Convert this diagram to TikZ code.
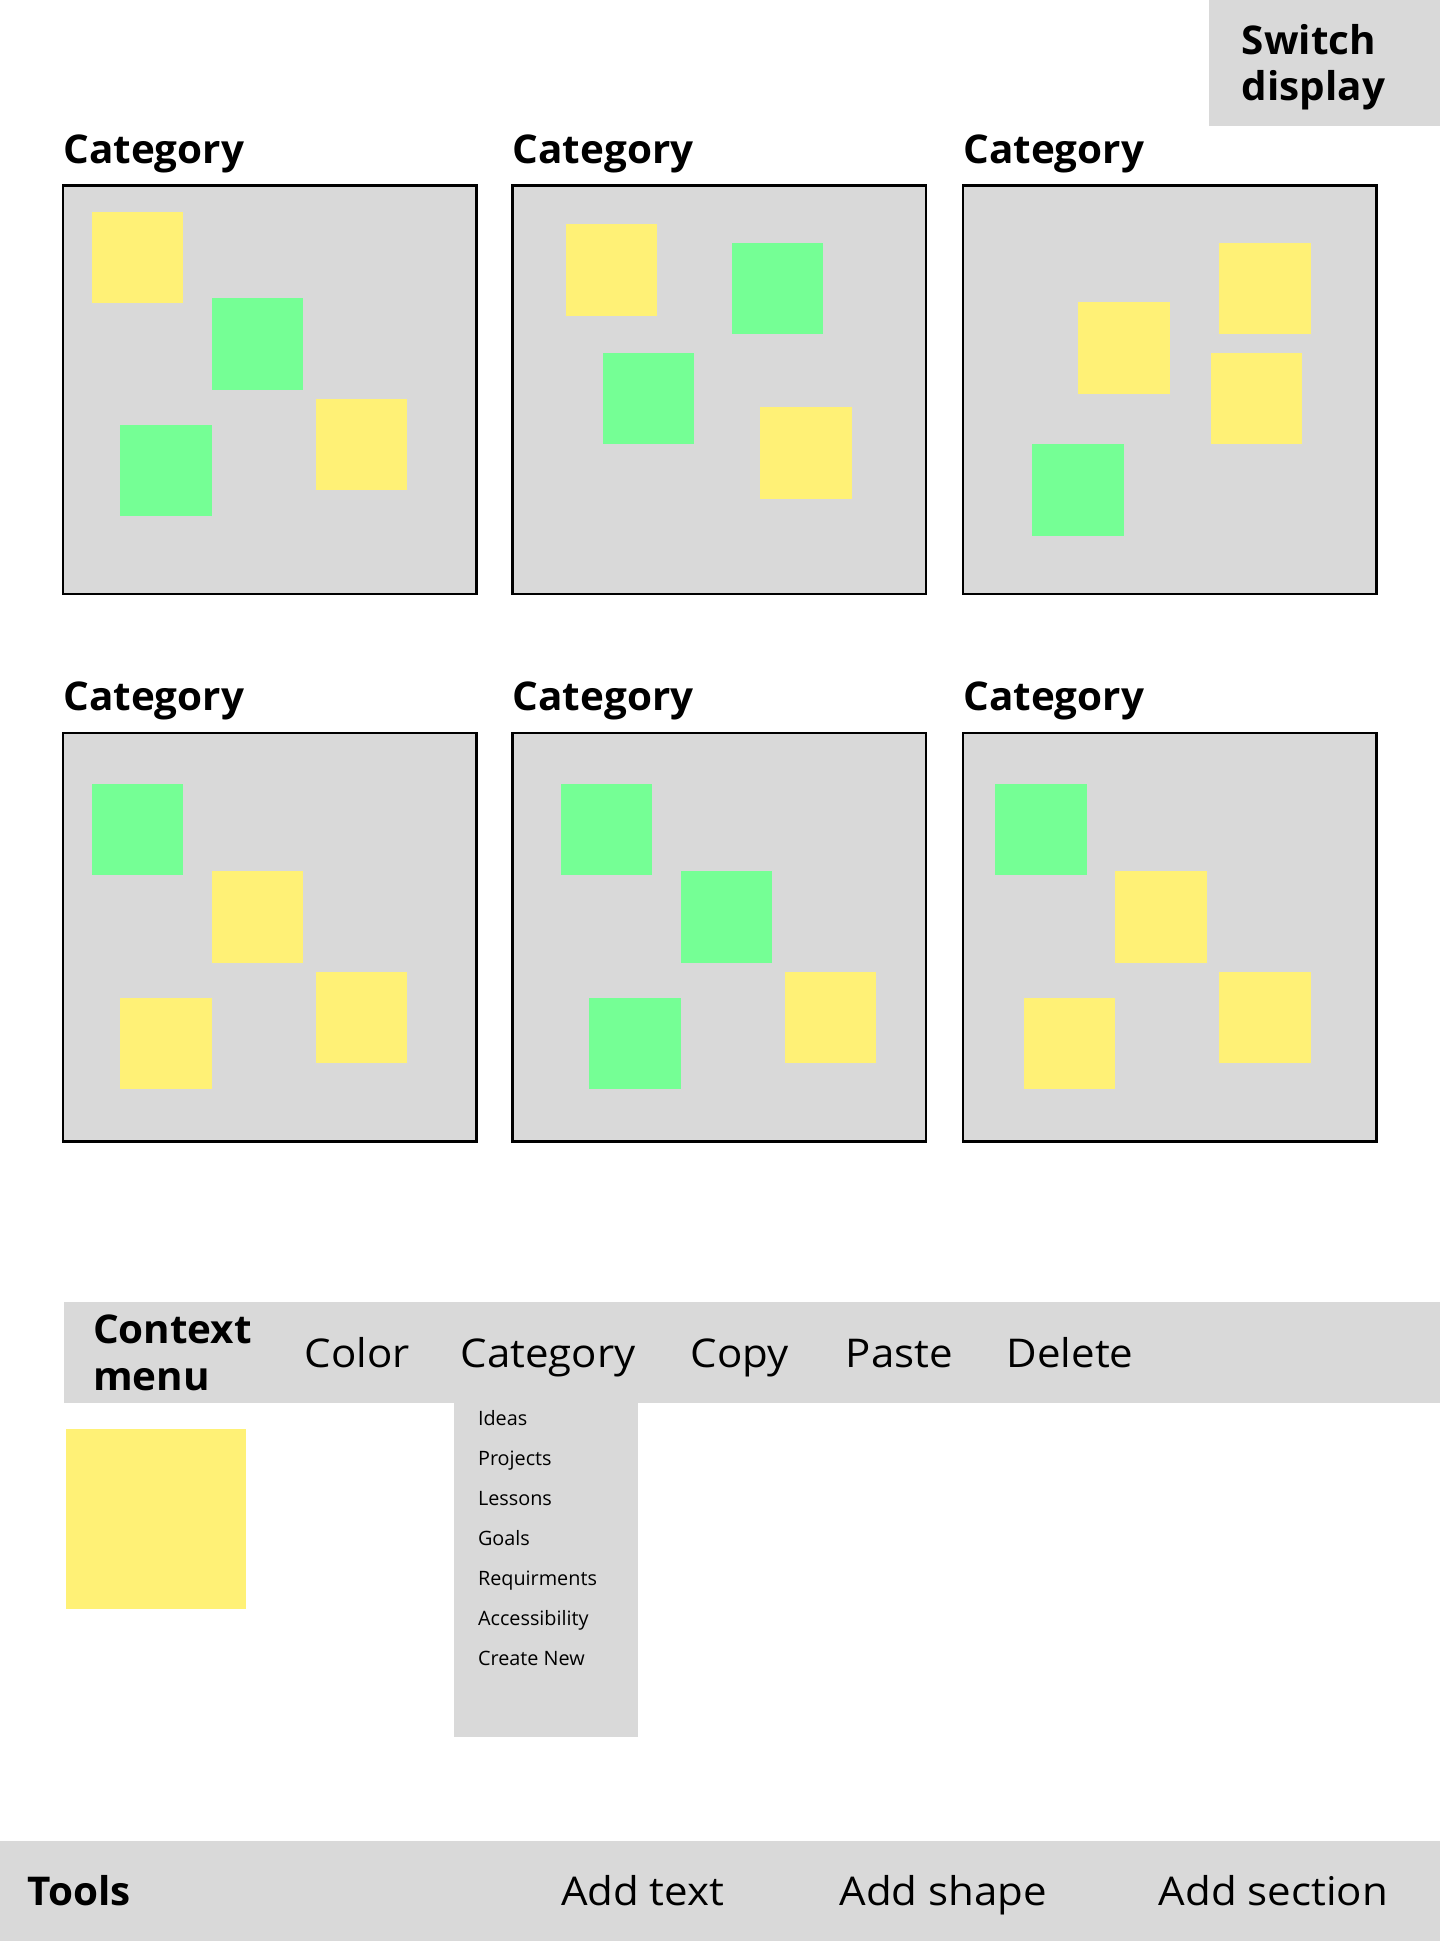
\documentclass[tikz,border=0pt]{standalone}
\usepackage{fontspec}
\setmainfont{Open Sans}
\newfontfamily\widereg{Open Sans}[FakeStretch=1.06]
\newfontfamily\widebold{Open Sans}[FakeStretch=1.02]
\definecolor{panel}{HTML}{D9D9D9}
\definecolor{stickyY}{HTML}{FFF176}
\definecolor{stickyG}{HTML}{75FF95}
\begin{document}
\begin{tikzpicture}[x=1pt,y=-1pt,
  big/.style={font=\widereg\fontsize{32}{37}\selectfont, inner sep=0pt, anchor=base west},
  bigb/.style={font=\widebold\bfseries\fontsize{32}{37}\selectfont, inner sep=0pt, anchor=base west},
  small/.style={font=\fontsize{16}{19}\selectfont, inner sep=0pt, anchor=base west},
  frame/.style={draw=black, line width=2pt, fill=panel},
]
\useasboundingbox (0,0) rectangle (1163,1568);

% switch display
\fill[panel] (977,0) rectangle (1163,102);
\node[bigb] (sw1) at (1003,44) {Switch};
\node[bigb] (sw2) at (1003,81) {display};

% category frames
\foreach \fx/\fy/\nm in {51/150/a,414/150/b,778/150/c,51/592/d,414/592/e,778/592/f}{
  \draw[frame] (\fx,\fy) rectangle ++(334,330);
  \node[bigb] (h\nm) at (\fx,\fy-18) {Category};
}

% stickies
\foreach \sx/\sy/\c in {
  74/171/stickyY, 171/241/stickyG, 97/343/stickyG, 255/322/stickyY,
  457/181/stickyY, 591/196/stickyG, 487/285/stickyG, 614/329/stickyY,
  985/196/stickyY, 871/244/stickyY, 978/285/stickyY, 834/359/stickyG,
  74/633/stickyG, 171/704/stickyY, 97/806/stickyY, 255/785/stickyY,
  453/633/stickyG, 550/704/stickyG, 476/806/stickyG, 634/785/stickyY,
  804/633/stickyG, 901/704/stickyY, 827/806/stickyY, 985/785/stickyY}{
  \fill[\c] (\sx,\sy) rectangle ++(74,74);
}

% context menu
\fill[panel] (52,1052) rectangle (1163,1133);
\node[bigb] (cm1) at (75,1085) {Context};
\node[bigb] (cm2) at (75,1123) {menu};
\node[big] (mcolor) at (246,1105) {Color};
\node[big] (mcat) at (372,1105) {Category};
\node[big] (mcopy) at (558,1105) {Copy};
\node[big] (mpaste) at (683,1105) {Paste};
\node[big] (mdel) at (813,1105) {Delete};

% dropdown
\fill[panel] (367,1133) rectangle (515,1403);
\foreach \t [count=\i from 0] in {Ideas,Projects,Lessons,Goals,Requirments,Accessibility,Create New}{
  \node[small] (dd\i) at (386,1151.7+32.3*\i) {\t};
}

% selected sticky
\fill[stickyY] (53,1154) rectangle (199,1300);

% tools bar
\fill[panel] (0,1487) rectangle (1163,1568);
\node[bigb] (tools) at (22,1539) {Tools};
\node[big] (addtext) at (453,1539) {Add text};
\node[big] (addshape) at (678,1539) {Add shape};
\node[big] (addsec) at (936,1539) {Add section};
\end{tikzpicture}
\end{document}
